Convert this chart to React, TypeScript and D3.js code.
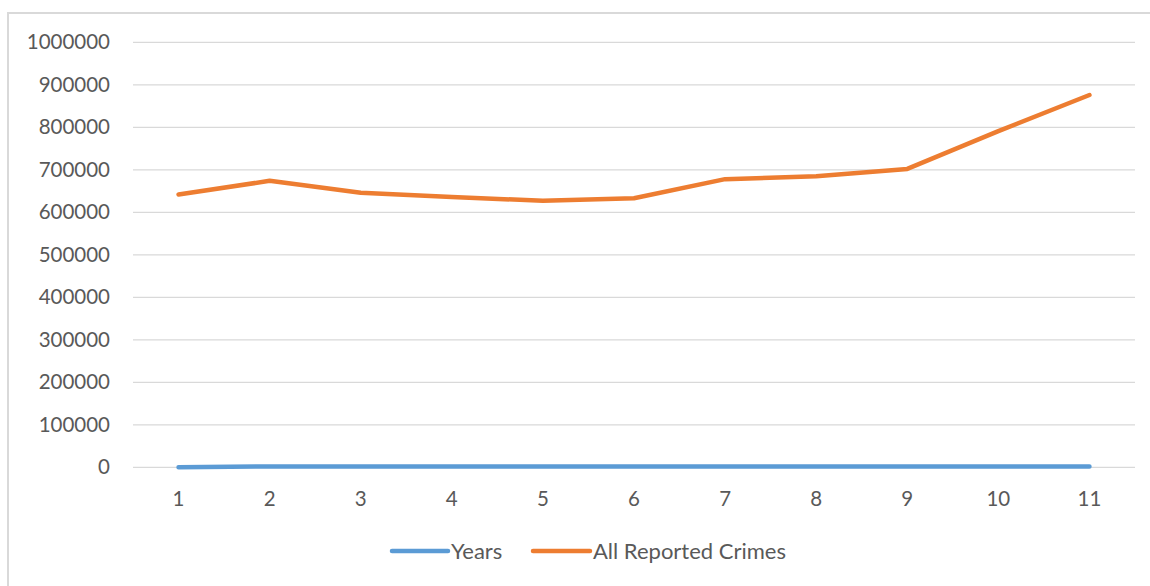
import React from "react";
import * as d3 from "d3";

const categories = ["1", "2", "3", "4", "5", "6", "7", "8", "9", "10", "11"];
const years = [0, 2008, 2009, 2010, 2011, 2012, 2013, 2014, 2015, 2016, 2017];
const crimes = [642000, 674000, 646000, 636000, 627000, 633000, 678000, 685000, 702000, 791000, 876000];
const yTicks = [0, 100000, 200000, 300000, 400000, 500000, 600000, 700000, 800000, 900000, 1000000];
const seriesNames = ["Years", "All Reported Crimes"];
const colors = ["#5b9bd5", "#ed7d31"];

export default function App() {
  const W = 1150, H = 586;
  const left = 133, right = 1135, top = 42.3, bottom = 467.3;
  const x = d3.scaleBand<string>().domain(categories).range([left, right]);
  const cx = (c: string) => (x(c) as number) + x.bandwidth() / 2;
  const y = d3.scaleLinear().domain([0, 1000000]).range([bottom, top]);
  const line = d3.line<number>().x((_, i) => cx(categories[i])).y((d) => y(d));
  const font = "Lato, 'Open Sans', sans-serif";
  const txt = "#595959";
  const legend = [
    { name: seriesNames[0], color: colors[0], x1: 392, x2: 448, tx: 451 },
    { name: seriesNames[1], color: colors[1], x1: 533, x2: 590, tx: 593 },
  ];
  return (
    <svg width={W} height={H} style={{ position: "absolute", left: 0, top: 0, background: "#fff" }}>
      <rect x={8} y={13} width={1200} height={700} fill="#fff" stroke="#d9d9d9" strokeWidth={2} />
      {yTicks.map((t) => (
        <g key={t}>
          <line x1={left} x2={right} y1={y(t)} y2={y(t)} stroke="#d9d9d9" strokeWidth={1.3} />
          <text x={110} y={y(t)} dy="0.35em" textAnchor="end" fontFamily={font} fontSize={20.5} fill={txt}>
            {t}
          </text>
        </g>
      ))}
      {categories.map((c) => (
        <text key={c} x={cx(c)} y={506} textAnchor="middle" fontFamily={font} fontSize={20.5} fill={txt}>
          {c}
        </text>
      ))}
      {[years, crimes].map((s, i) => (
        <path key={i} d={line(s) || ""} fill="none" stroke={colors[i]} strokeWidth={4.5} strokeLinejoin="round" strokeLinecap="round" />
      ))}
      {legend.map((l) => (
        <g key={l.name}>
          <line x1={l.x1} x2={l.x2} y1={551} y2={551} stroke={l.color} strokeWidth={4.5} strokeLinecap="round" />
          <text x={l.tx} y={551} dy="0.35em" fontFamily={font} fontSize={22} fill={txt}>
            {l.name}
          </text>
        </g>
      ))}
    </svg>
  );
}
